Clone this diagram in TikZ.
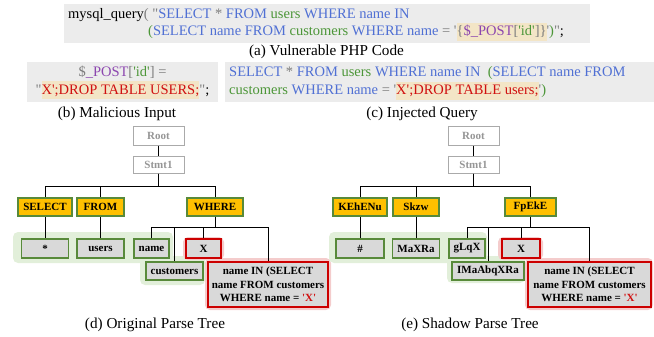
\documentclass[tikz,border=0pt]{standalone}
\usepackage{fontspec}
\setmainfont{Liberation Serif}[Ligatures=TeXOff]
\usepackage{tikz}
\usetikzlibrary{positioning}

\definecolor{codebg}{RGB}{236,236,236}
\definecolor{kwblue}{RGB}{80,112,212}
\definecolor{idgreen}{RGB}{76,150,56}
\definecolor{pgray}{RGB}{125,125,125}
\definecolor{phpurple}{RGB}{140,70,175}
\definecolor{injred}{RGB}{208,16,16}
\definecolor{hlbg}{RGB}{243,229,198}
\definecolor{nodegray}{RGB}{217,217,217}
\definecolor{kwyellow}{RGB}{255,192,0}
\definecolor{bordergreen}{RGB}{88,138,58}
\definecolor{borderred}{RGB}{204,0,0}
\definecolor{hlgreen}{RGB}{226,239,218}
\definecolor{hlred}{RGB}{244,204,204}
\definecolor{rootgray}{RGB}{170,170,170}
\definecolor{roottext}{RGB}{150,150,150}

\newcommand{\kw}[1]{\textcolor{kwblue}{#1}}
\newcommand{\idn}[1]{\textcolor{idgreen}{#1}}
\newcommand{\pg}[1]{\textcolor{pgray}{#1}}
\newcommand{\pu}[1]{\textcolor{phpurple}{#1}}
\newcommand{\inj}[1]{\textcolor{injred}{#1}}
\newcommand{\hl}[1]{{\setlength{\fboxsep}{0pt}\colorbox{hlbg}{\strut#1}}}

\begin{document}
\begin{tikzpicture}[x=1pt,y=-1pt,
codebox/.style={fill=codebg, inner sep=0pt},
code/.style={inner sep=0pt, font=\fontsize{14.5}{18}\selectfont},
caption/.style={inner sep=0pt, font=\fontsize{15.2}{18}\selectfont},
leaf/.style={draw=bordergreen, fill=nodegray, line width=1.6pt, inner sep=0pt, minimum height=19pt, font=\fontsize{11}{13.5}\selectfont\bfseries},
badleaf/.style={leaf, draw=borderred},
keyword/.style={leaf, fill=kwyellow, minimum height=18pt},
rootbox/.style={draw=rootgray, line width=1pt, fill=white, text=roottext, inner sep=0pt, minimum width=51pt, minimum height=18pt, font=\fontsize{11}{13.5}\selectfont\bfseries},
link/.style={line width=1pt},
safe/.style={fill=hlgreen, rounded corners=5pt},
taint/.style={fill=hlred, rounded corners=5pt}
]
\useasboundingbox (0,0) rectangle (654,337);

%% Code %%%%%%%%%%%%%%%%%%%%%%%%%%%%%%%%%%%%%%%%%%%%%%%%%%%%%%%%%%%%%%%%%%%%%%%%%%

%% Boxes
\node [codebox, minimum width=526pt, minimum height=39pt] (php)   at (327,23.5)  {};
\node [codebox, minimum width=191pt, minimum height=40pt] (input) at (122.5,82.5) {};
\node [codebox, minimum width=429pt, minimum height=40pt] (query) at (439.5,82)   {};

%% Texte
\node [code, anchor=west] (php1) at (68,15) {mysql\_query\pg{( "}\kw{SELECT} \pg{*} \kw{FROM} \idn{users} \kw{WHERE name IN}};
\node [code, anchor=west] (php2) at (148,32) {\idn{(}\kw{SELECT name FROM} \idn{customers} \kw{WHERE name} \pg{= '}\hl{\pg{\{}\pu{\$\_POST}\pg{[}\idn{'id'}\pg{]\}}}\pg{'}\idn{)}\pg{"};};
\node [code, align=center] (inputtxt) at (input.center) {\pg{\$}\pu{\_POST}\pg{[}\idn{'id'}\pg{] =}\\ \pg{"}\hl{\inj{X';DROP TABLE USERS;}}\pg{"};};
\node [code, align=left, anchor=west] (querytxt) at (229,83) {\kw{SELECT} \pg{*} \kw{FROM} \idn{users} \kw{WHERE name IN}~~\idn{(}\kw{SELECT name FROM}\\ \idn{customers} \kw{WHERE name} \pg{= '}\hl{\inj{X';DROP TABLE users;}}\pg{'}\idn{)}};

%% Captions
\node [caption] (capA) at (326.5,52) {(a) Vulnerable PHP Code};
\node [caption] (capB) at (117,114)  {(b) Malicious Input};
\node [caption] (capC) at (422,114)  {(c) Injected Query};
\node [caption] (capD) at (155,325)  {(d) Original Parse Tree};
\node [caption] (capE) at (470,325)  {(e) Shadow Parse Tree};

%% Highlights %%%%%%%%%%%%%%%%%%%%%%%%%%%%%%%%%%%%%%%%%%%%%%%%%%%%%%%%%%%%%%%%%%%%
\fill [safe]  (13,232)  rectangle (173,263);
\fill [safe]  (140,256) rectangle (205,285);
\fill [taint] (183,237) rectangle (224,260);
\fill [taint] (205,258) rectangle (331,310);

\fill [safe]  (329,232) rectangle (487,263);
\fill [safe]  (447,256) rectangle (525,283);
\fill [taint] (498,237) rectangle (543,260);
\fill [taint] (525,258) rectangle (653,310);

%% Original Parse Tree %%%%%%%%%%%%%%%%%%%%%%%%%%%%%%%%%%%%%%%%%%%%%%%%%%%%%%%%%%%
\node [rootbox] (rootD) at (158.5,136) {Root};
\node [rootbox, minimum height=17pt] (stmtD) at (158.5,164.5) {Stmt1};

\node [keyword, minimum width=54pt] (selD)   at (45,207)    {SELECT};
\node [keyword, minimum width=47pt] (fromD)  at (100.5,207) {FROM};
\node [keyword, minimum width=56pt] (whereD) at (215,207)   {WHERE};

\node [leaf, minimum width=47pt]    (starD)  at (45,248.5)    {*};
\node [leaf, minimum width=47pt]    (usersD) at (100.5,248.5) {users};
\node [leaf, minimum width=35pt]    (nameD)  at (151.5,248.5) {name};
\node [badleaf, minimum width=35pt] (xD)     at (203.5,248.5) {X};
\node [leaf, minimum width=57pt, minimum height=18pt] (custD) at (174.5,271) {customers};
\node [badleaf, minimum width=120pt, minimum height=45pt, align=center] (subD) at (268,284.5)
  {name IN (SELECT\\ name FROM customers\\ WHERE name = \textcolor{injred}{'X'}};

%% Shadow Parse Tree %%%%%%%%%%%%%%%%%%%%%%%%%%%%%%%%%%%%%%%%%%%%%%%%%%%%%%%%%%%%%
\node [rootbox] (rootE) at (473.5,136) {Root};
\node [rootbox, minimum height=17pt] (stmtE) at (473.5,164.5) {Stmt1};

\node [keyword, minimum width=54pt] (selE)   at (360,207)   {KEhENu};
\node [keyword, minimum width=46pt] (fromE)  at (416,207)   {Skzw};
\node [keyword, minimum width=51pt] (whereE) at (530.5,207) {FpEkE};

\node [leaf, minimum width=48pt]    (starE)  at (360,248.5) {\#};
\node [leaf, minimum width=47pt]    (usersE) at (416,248.5) {MaXRa};
\node [leaf, minimum width=36pt]    (nameE)  at (467,248.5) {gLqX};
\node [badleaf, minimum width=38pt] (xE)     at (521,248.5) {X};
\node [leaf, minimum width=72pt, minimum height=18pt] (custE) at (488,271) {IMaAbqXRa};
\node [badleaf, minimum width=123pt, minimum height=45pt, align=center] (subE) at (589.5,284.5)
  {name IN (SELECT\\ name FROM customers\\ WHERE name = \textcolor{injred}{'X'}};

%% Kanten %%%%%%%%%%%%%%%%%%%%%%%%%%%%%%%%%%%%%%%%%%%%%%%%%%%%%%%%%%%%%%%%%%%%%%%%
\foreach \t in {D, E}{
  \draw [link] (root\t) -- (stmt\t);
  \draw [link, line width=1.6pt] (stmt\t.south) -- ++(0,13);
  \foreach \c in {sel, from, where}
    \draw [link] (stmt\t.south) -- ++(0,13) -| (\c\t.north);
  \draw [link] (sel\t) -- (star\t);
  \draw [link] (from\t) -- (users\t);
  \foreach \c in {name, cust, x, sub}
    \draw [link] (where\t.south) -- ++(0,11) -| (\c\t.north);
}

\end{tikzpicture}
\end{document}
